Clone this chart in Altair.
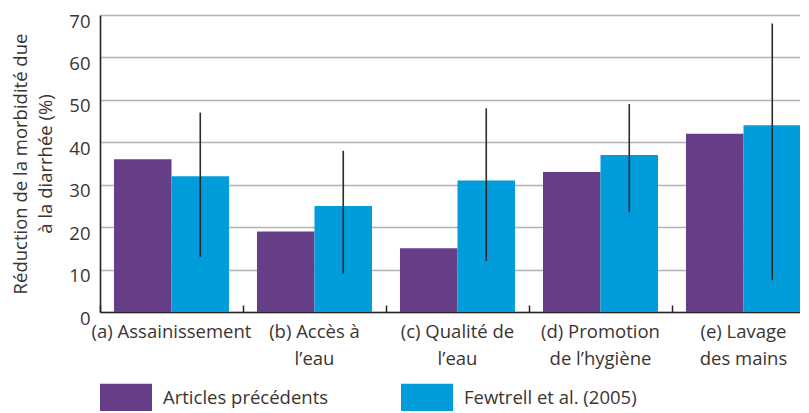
import altair as alt
import pandas as pd

groups = ["(a) Assainissement", "(b) Accès à\nl’eau", "(c) Qualité de\nl’eau",
          "(d) Promotion\nde l’hygiène", "(e) Lavage\ndes mains"]
series = ["Articles précédents", "Fewtrell et al. (2005)"]
prev_vals = [36, 19, 15, 33, 42]
few_vals = [32, 25, 31, 37, 44]
few_lo = [13, 9, 12, 23.5, 7.5]
few_hi = [47, 38, 48, 49, 68]
colors = ["#663e87", "#009cdc"]
y_ticks = [0, 10, 20, 30, 40, 50, 60, 70]

rows = []
for g, p, f, lo, hi in zip(groups, prev_vals, few_vals, few_lo, few_hi):
    rows.append({"group": g, "series": series[0], "value": p, "lo": None, "hi": None})
    rows.append({"group": g, "series": series[1], "value": f, "lo": lo, "hi": hi})
df = pd.DataFrame(rows)

FONT = "Open Sans"
TXT = "#3b3431"
FS = 18.5
H = 297
W = 700

x_scale = alt.Scale(paddingInner=0, paddingOuter=0, range=[0, 715])

x_enc = alt.X("group:N", sort=groups, scale=x_scale,
              axis=alt.Axis(title=None, labelAngle=0, ticks=False, domain=True,
                            domainColor="#2a2320", domainWidth=1.6,
                            labelExpr="split(datum.label, '\\n')",
                            labelFont=FONT, labelFontSize=FS, labelColor=TXT,
                            labelPadding=10, labelLineHeight=27, labelLimit=300))
xo_enc = alt.XOffset("series:N", sort=series,
                     scale=alt.Scale(paddingInner=0, paddingOuter=0.243))

bars = alt.Chart(df).mark_bar().encode(
    x=x_enc,
    xOffset=xo_enc,
    y=alt.Y("value:Q", scale=alt.Scale(domain=[0, 70], nice=False),
            axis=alt.Axis(values=y_ticks, title=["Réduction de la morbidité due", "à la diarrhée (%)"],
                          titleFont=FONT, titleFontSize=FS, titleFontWeight="normal",
                          titleColor=TXT, titlePadding=13, titleLineHeight=25,
                          labelFont=FONT, labelFontSize=FS, labelColor=TXT, labelPadding=10,
                          labelOffset=6,
                          ticks=False, domain=True, domainColor="#2a2320", domainWidth=1.6,
                          grid=True, gridColor="#b3b3b3", gridWidth=1.5)),
    color=alt.Color("series:N", sort=series, scale=alt.Scale(domain=series, range=colors),
                    legend=alt.Legend(title=None, orient="none", legendX=0, legendY=357,
                                      direction="horizontal", columns=2, columnPadding=72,
                                      symbolType="M-1,-0.558L1,-0.558L1,0.558L-1,0.558Z",
                                      symbolSize=2704, symbolStrokeWidth=0, symbolOpacity=1,
                                      labelFont=FONT, labelFontSize=FS, labelColor=TXT,
                                      labelOffset=11, labelLimit=300)),
)

errs = alt.Chart(df).transform_filter(alt.datum.series == series[1]).mark_rule(
    color="#2b2b2b", strokeWidth=1.6
).encode(
    x=alt.X("group:N", sort=groups, scale=x_scale,
            axis=alt.Axis(orient="top", offset=-H, title=None, labels=False, domain=False,
                          grid=False, ticks=True, tickBand="extent", tickSize=7,
                          tickColor="#2a2320", tickWidth=1.5)),
    xOffset=xo_enc,
    y=alt.Y("lo:Q"),
    y2="hi:Q",
)

chart = alt.layer(bars, errs).resolve_axis(x="independent").properties(
    width=W, height=H,
    autosize=alt.AutoSizeParams(type="none"),
    padding={"left": 92, "top": 7, "right": 0, "bottom": 99},
).configure_view(stroke=None)

chart.save("out.html", embed_options={"renderer": "svg", "actions": False})
